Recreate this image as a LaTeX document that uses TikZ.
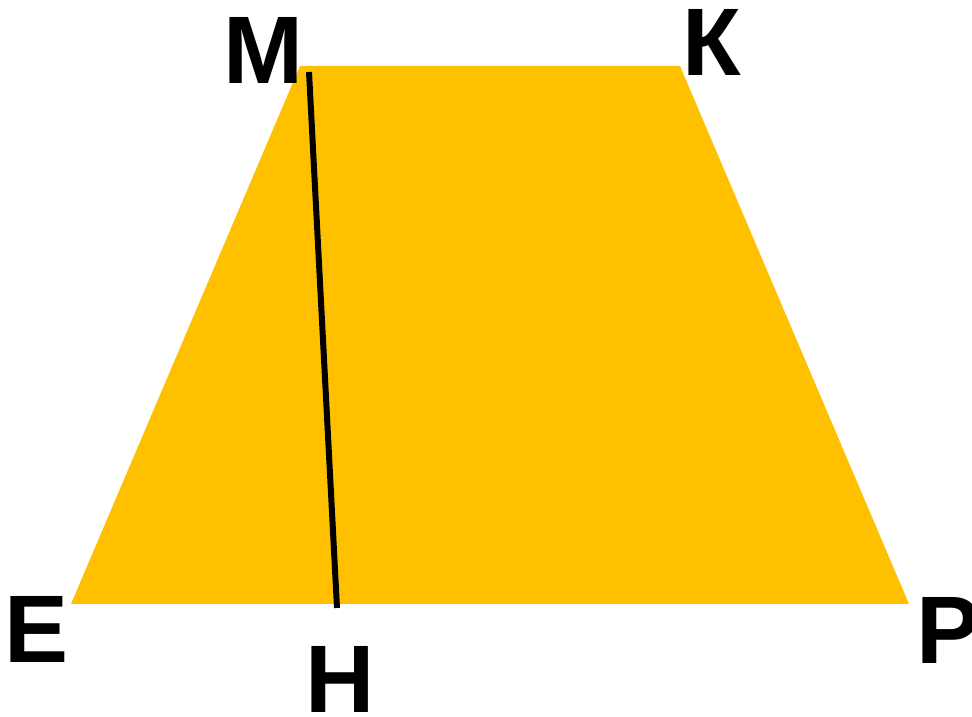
\documentclass[tikz,border=0pt]{standalone}
\usepackage{fontspec}
\setmainfont{Liberation Sans}
\definecolor{gold}{HTML}{FFC000}
\begin{document}
\begin{tikzpicture}[x=1pt,y=1pt,
  lbl/.style={font=\fontsize{96}{96}\selectfont\bfseries, inner sep=0pt, anchor=base}]
\useasboundingbox (0,0) rectangle (972,717);
\coordinate (E) at (71,113);
\coordinate (M) at (300,651);
\coordinate (K) at (680,651);
\coordinate (P) at (909,113);
\coordinate (Mt) at (309,645);
\coordinate (H) at (337,109);
\fill[gold] (E) -- (M) -- (K) -- (P) -- cycle;
\draw[line width=6pt] (Mt) -- (H);
\node[lbl] (lM) at (263.5,633) {М};
\node[lbl] (lK) at (712,641) {К};
\node[lbl] (lE) at (37,54) {Е};
\node[lbl] (lH) at (340,4) {Н};
\node[lbl, anchor=base west] (lP) at (916,53) {Р};
\end{tikzpicture}
\end{document}
